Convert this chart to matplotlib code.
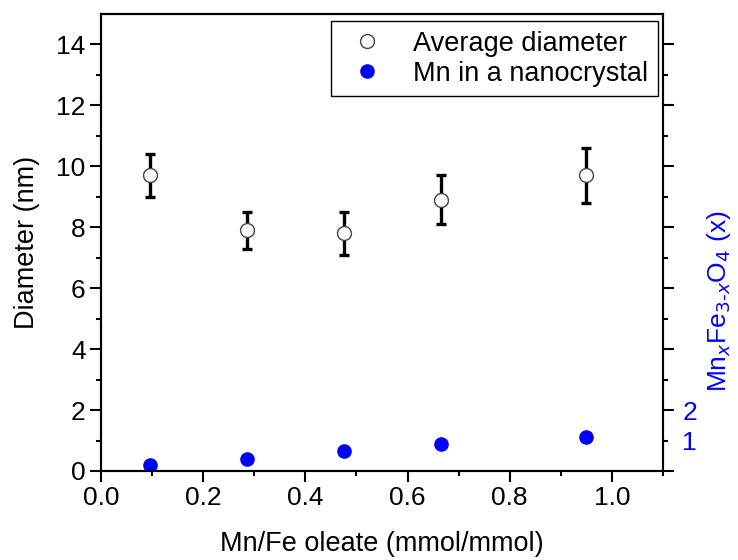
import matplotlib
matplotlib.use("Agg")
import matplotlib.pyplot as plt

plt.rcParams['font.family'] = ['Liberation Sans', 'DejaVu Sans']

ratio = [0.095, 0.285, 0.475, 0.665, 0.95]
diameter = [9.7, 7.9, 7.8, 8.9, 9.7]
diameter_err = [0.7, 0.6, 0.7, 0.8, 0.9]
mn_x = [0.19, 0.41, 0.66, 0.89, 1.11]

x_ticks = [0.0, 0.2, 0.4, 0.6, 0.8, 1.0]
y_ticks = [0, 2, 4, 6, 8, 10, 12, 14]

fig = plt.figure(figsize=(7.38, 5.6), dpi=100)
ax = fig.add_axes([101/738, 1-471/560, 562/738, 457/560])

ax.errorbar(ratio, diameter, yerr=diameter_err, fmt='none', ecolor='black',
            elinewidth=2.4, capsize=3.8, capthick=2.4, zorder=2)
ax.plot(ratio, diameter, 'o', ms=10, mfc='white', mec='#444444', mew=1.0,
        zorder=3, label='Average diameter')
ax.plot(ratio, mn_x, 'o', ms=9.5, color='#0000ff', mec='#0000ff',
        zorder=3, label='Mn in a nanocrystal')

ax.set_xlim(0, 1.1)
ax.set_ylim(0, 15)
ax.set_xticks(x_ticks)
ax.set_xticklabels([f'{v:.1f}' for v in x_ticks])
ax.set_xticks([0.1, 0.3, 0.5, 0.7, 0.9, 1.1], minor=True)
ax.set_yticks(y_ticks)
ax.set_yticks([1, 3, 5, 7, 9, 11, 13], minor=True)

for s in ax.spines.values():
    s.set_linewidth(1.5)
ax.tick_params(which='major', direction='out', length=8, width=1.5, labelsize=19, pad=3)
ax.tick_params(which='minor', direction='out', length=3.5, width=1.5)
ax.tick_params(top=False, right=False, which='both')

ax.set_xlabel('Mn/Fe oleate (mmol/mmol)', fontsize=19.5, labelpad=15)
ax.set_ylabel('Diameter (nm)', fontsize=19.5, labelpad=12)

ax2 = ax.twinx()
ax2.set_ylim(0, 15)
ax2.set_yticks(y_ticks)
ax2.set_yticklabels(['', '2', '', '', '', '', '', ''])
ax2.set_yticks([1, 3, 5, 7, 9, 11, 13], minor=True)
ax2.set_yticklabels(['1', '', '', '', '', '', ''], minor=True)
ax2.tick_params(which='major', direction='out', length=8, width=1.5, labelsize=19,
                labelcolor='#0000ff', pad=6)
ax2.tick_params(which='minor', direction='out', length=3.5, width=1.5, labelsize=19,
                labelcolor='#0000ff', pad=10)
for s in ax2.spines.values():
    s.set_linewidth(1.5)
ax.text(1.1, 0.372, r'Mn$_{x}$Fe$_{3\text{-}x}$O$_{4}$ (x)', transform=ax.transAxes,
        rotation=90, ha='center', va='center', fontsize=19, color='#0000ff')

leg = ax.legend(loc='upper right', bbox_to_anchor=(0.991, 0.984), borderaxespad=0,
                fontsize=19.5, frameon=True, fancybox=False, edgecolor='black',
                framealpha=1, handletextpad=0.7, borderpad=0.35, labelspacing=0.15,
                handlelength=2.0)
leg.get_frame().set_linewidth(1.0)

fig.savefig('out.png', dpi=100)
